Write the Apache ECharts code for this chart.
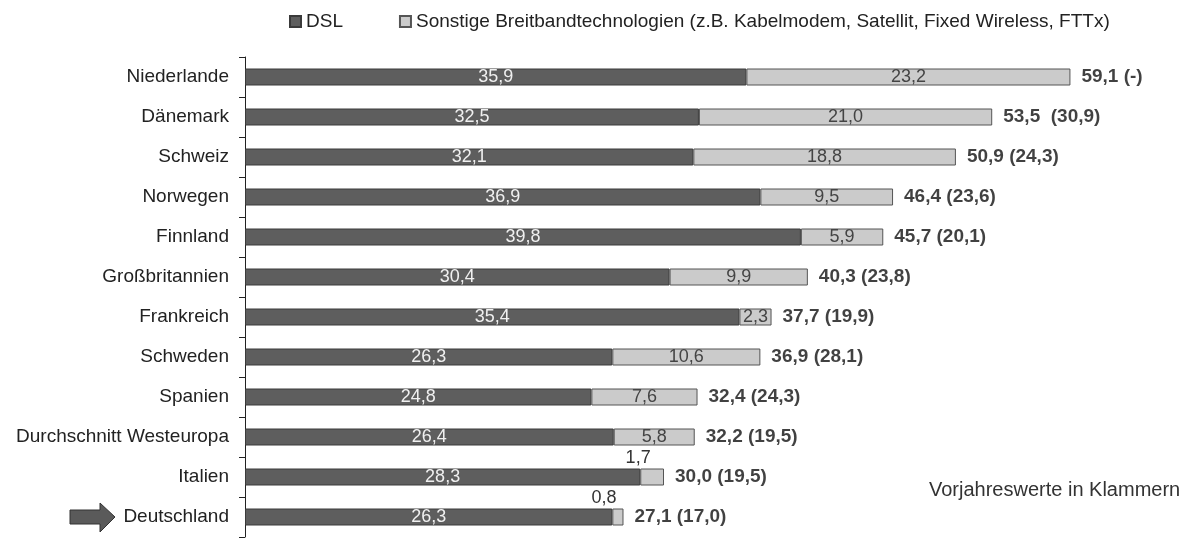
<!DOCTYPE html>
<html>
<head>
<meta charset="utf-8">
<script src="https://cdn.jsdelivr.net/npm/echarts@6/dist/echarts.min.js"></script>
<style>
    html, body { margin: 0; padding: 0; background: #fff; }
    #chart { width: 1199px; height: 538px; }
</style>
</head>
<body>
<div id="chart"></div>
<script>
// Länder (von oben nach unten)
var countries = ['Niederlande', 'Dänemark', 'Schweiz', 'Norwegen', 'Finnland', 'Großbritannien',
    'Frankreich', 'Schweden', 'Spanien', 'Durchschnitt Westeuropa', 'Italien', 'Deutschland'];
// DSL-Anteil
var dsl = [35.9, 32.5, 32.1, 36.9, 39.8, 30.4, 35.4, 26.3, 24.8, 26.4, 28.3, 26.3];
// sonstige Breitbandtechnologien
var other = [23.2, 21.0, 18.8, 9.5, 5.9, 9.9, 2.3, 10.6, 7.6, 5.8, 1.7, 0.8];
// Gesamtwerte wie beschriftet
var totals = [59.1, 53.5, 50.9, 46.4, 45.7, 40.3, 37.7, 36.9, 32.4, 32.2, 30.0, 27.1];
// Vorjahreswerte in Klammern
var prevYear = ['-', '30,9', '24,3', '23,6', '20,1', '23,8', '19,9', '28,1', '24,3', '19,5', '19,5', '17,0'];

function fmt(v) {
    return v.toFixed(1).replace('.', ',');
}

var chart = echarts.init(document.getElementById('chart'));

var otherData = other.map(function(v, i) {
    var item = { value: v };
    // kleine Werte stehen über dem Balken
    if (i >= 10) {
        item.label = { position: 'top', distance: 1, color: '#333', offset: [-14, 0] };
    }
    return item;
});

var totalData = totals.map(function(v, i) {
    return [v, countries[i]];
});

var option = {
    animation: false,
    textStyle: { fontFamily: 'Liberation Sans, Arial, sans-serif' },
    legend: {
        top: 7,
        left: 284,
        itemWidth: 11,
        itemHeight: 11,
        itemGap: 56,
        icon: 'rect',
        textStyle: { fontSize: 19, color: '#222' },
        data: ['DSL', 'Sonstige Breitbandtechnologien (z.B. Kabelmodem, Satellit, Fixed Wireless, FTTx)']
    },
    grid: { left: 245, top: 57, width: 838, bottom: 1 },
    xAxis: {
        type: 'value',
        min: 0,
        max: 60,
        show: false
    },
    yAxis: {
        type: 'category',
        inverse: true,
        data: countries,
        axisLine: { lineStyle: { color: '#222', width: 1 } },
        axisTick: { show: true, length: 6, lineStyle: { color: '#222' } },
        axisLabel: { fontSize: 19, color: '#222', margin: 16 }
    },
    series: [
        {
            name: 'DSL',
            type: 'bar',
            stack: 'a',
            barWidth: 17,
            data: dsl,
            itemStyle: { color: '#5e5e5e', borderColor: '#3a3a3a', borderWidth: 1 },
            label: {
                show: true,
                position: 'inside',
                color: '#f0f0f0',
                fontSize: 18,
                formatter: function(p) { return fmt(p.value); }
            }
        },
        {
            name: 'Sonstige Breitbandtechnologien (z.B. Kabelmodem, Satellit, Fixed Wireless, FTTx)',
            type: 'bar',
            stack: 'a',
            barWidth: 17,
            data: otherData,
            itemStyle: { color: '#cbcbcb', borderColor: '#555', borderWidth: 1 },
            label: {
                show: true,
                position: 'inside',
                color: '#444',
                fontSize: 18,
                formatter: function(p) { return fmt(p.value); }
            }
        },
        {
            name: 'Gesamt',
            type: 'scatter',
            symbolSize: 0,
            data: totalData,
            label: {
                show: true,
                position: 'right',
                distance: 11,
                color: '#111',
                fontSize: 19,
                fontWeight: 'bold',
                formatter: function(p) {
                    var i = p.dataIndex;
                    var gap = i === 1 ? '  ' : ' ';
                    return fmt(p.value[0]) + gap + '(' + prevYear[i] + ')';
                }
            }
        }
    ],
    graphic: [
        {
            type: 'text',
            left: 929,
            top: 480,
            style: { text: 'Vorjahreswerte in Klammern', fontSize: 20, fill: '#333', fontFamily: 'Liberation Sans, Arial, sans-serif' }
        },
        {
            type: 'polygon',
            shape: { points: [[70, 510], [100, 510], [100, 503], [115, 517], [100, 532], [100, 524], [70, 524]] },
            style: { fill: '#5a5a5a', stroke: '#333', lineWidth: 1 }
        }
    ]
};

chart.setOption(option);
</script>
</body>
</html>
